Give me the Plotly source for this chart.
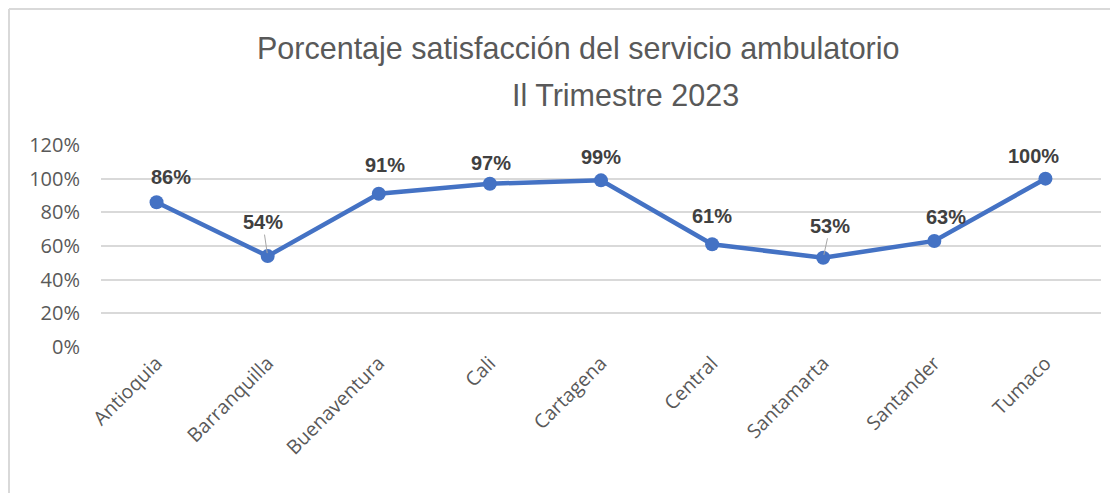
import plotly.graph_objects as go

categories = ["Antioquia", "Barranquilla", "Buenaventura", "Cali", "Cartagena",
              "Central", "Santamarta", "Santander", "Tumaco"]
values = [0.86, 0.54, 0.91, 0.97, 0.99, 0.61, 0.53, 0.63, 1.00]
labels = ["86%", "54%", "91%", "97%", "99%", "61%", "53%", "63%", "100%"]
y_ticks = [0, 0.2, 0.4, 0.6, 0.8, 1.0, 1.2]
y_tick_labels = ["0%", "20%", "40%", "60%", "80%", "100%", "120%"]
title_line1 = "Porcentaje satisfacción del servicio ambulatorio"
title_line2 = "Il Trimestre 2023"

# label offsets (styling): (dx, dy) in pixels, leader flag
label_offsets = [(14, -25, False), (-5, -34, True), (6, -29, False), (1, -21, False),
                 (0, -23, False), (0, -28, False), (7, -32, True), (12, -24, False),
                 (-12, -23, False)]

LABEL_FONT = dict(family="Liberation Sans Narrow, Arial Narrow, Liberation Sans, sans-serif",
                  size=20, color="#404040")
TITLE_FONT = dict(family="Liberation Sans Narrow, Arial Narrow, Liberation Sans, sans-serif",
                  size=30.5, color="#595959")

fig = go.Figure()
fig.add_trace(go.Scatter(
    x=categories, y=values, mode="lines+markers",
    line=dict(color="#4472C4", width=4.5),
    marker=dict(color="#4472C4", size=14),
    hoverinfo="skip", showlegend=False,
))

for c, v, t, (dx, dy, leader) in zip(categories, values, labels, label_offsets):
    if leader:
        fig.add_annotation(x=c, y=v, xref="x", yref="y", text="<b>" + t + "</b>",
                           showarrow=True, ax=dx, ay=dy, axref="pixel", ayref="pixel",
                           arrowhead=0, arrowwidth=1, arrowcolor="#A6A6A6", standoff=3,
                           font=LABEL_FONT)
    else:
        fig.add_annotation(x=c, y=v, xref="x", yref="y", text="<b>" + t + "</b>",
                           showarrow=False, xshift=dx, yshift=-dy, font=LABEL_FONT)

fig.add_annotation(text=title_line1, xref="paper", yref="paper", x=0.477, y=1.0,
                   yshift=97, showarrow=False, xanchor="center", yanchor="middle",
                   font=TITLE_FONT)
fig.add_annotation(text=title_line2, xref="paper", yref="paper", x=0.524, y=1.0,
                   yshift=50, showarrow=False, xanchor="center", yanchor="middle",
                   font=TITLE_FONT)

W, H = 1110, 485
L, R, T, B = 93, 17, 137, 146
PW, PH = W - L - R, H - T - B

# outer chart border (left and top edges visible)
fig.add_shape(type="line", xref="paper", yref="paper", x0=-(L - 1) / PW, x1=-(L - 1) / PW,
              y0=-B / PH, y1=1 + (T - 1) / PH, line=dict(color="#D9D9D9", width=2))
fig.add_shape(type="line", xref="paper", yref="paper", x0=-(L - 1) / PW, x1=1 + R / PW,
              y0=1 + (T - 1) / PH, y1=1 + (T - 1) / PH, line=dict(color="#D9D9D9", width=2))

fig.update_layout(
    width=W, height=H,
    margin=dict(l=L, r=R, t=T, b=B),
    plot_bgcolor="white", paper_bgcolor="white",
    xaxis=dict(tickangle=-45, showgrid=False, showline=False, ticks="",
               tickfont=dict(family="Open Sans, sans-serif", size=19.5, color="#595959"),
               range=[-0.5, 8.5]),
    yaxis=dict(range=[0, 1.2], tickvals=y_ticks, ticktext=y_tick_labels,
               showgrid=True, gridcolor="#D9D9D9", gridwidth=1.5, zeroline=False,
               showline=False, ticks="", ticklabelstandoff=20,
               tickfont=dict(family="Open Sans, sans-serif", size=20, color="#595959")),
)
fig.write_html("out.html")
